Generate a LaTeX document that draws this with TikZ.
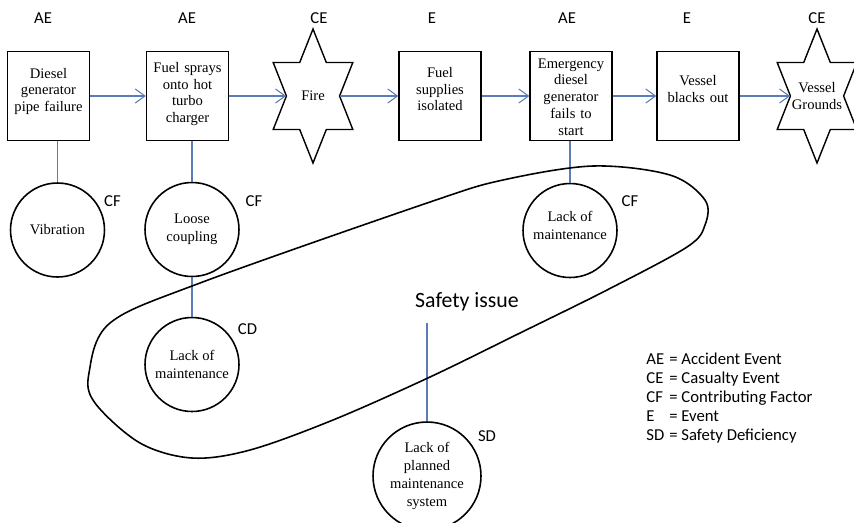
\documentclass[tikz,border=0pt]{standalone}
\usepackage{fontspec}
\setmainfont{Liberation Serif}
\newfontfamily\labfont{Carlito}
\usepackage{tikz}
\usetikzlibrary{arrows.meta}
\definecolor{linkblue}{RGB}{90,125,182}
\tikzset{
evbox/.style={draw,line width=0.8pt,minimum width=1.64cm,minimum height=1.78cm,text width=1.56cm,align=center,inner sep=0pt,text depth=#1,font=\fontsize{8.3}{9.5}\selectfont},
evbox/.default=26pt,
factor/.style={draw,circle,line width=0.9pt,minimum size=1.88cm,inner sep=0pt,align=center,font=\fontsize{8.3}{10.2}\selectfont},
starin/.style={minimum width=1.064cm,minimum height=0.6cm,inner sep=0pt,align=center,font=\fontsize{8.3}{9.5}\selectfont},
tag/.style={font=\labfont\fontsize{9.5}{10.8}\selectfont},
link/.style={linkblue,line width=0.6pt},
flow/.style={link,-{Straight Barb[length=5.5pt,width=8pt]}}
}
\newcommand{\hexstar}[1]{\draw[line width=0.8pt,shift={(#1)}] (0,-67)--(13.3,-33.5)--(39.8,-33.5)--(26.6,0)--(39.8,33.5)--(13.3,33.5)--(0,67)--(-13.3,33.5)--(-39.8,33.5)--(-26.6,0)--(-39.8,-33.5)--(-13.3,-33.5)--cycle;}

\begin{document}
\begin{tikzpicture}[x=0.02cm,y=-0.02cm]
\useasboundingbox (0,0) rectangle (854,522);
\node[evbox=26pt] (dg) at (48.5,96) {Diesel\\generator\\pipe failure};
\node[evbox=32.5pt] (fs) at (187.5,96) {Fuel sprays\\onto hot\\turbo\\charger};
\node[starin] (fire) at (313,96) {Fire};
\node[evbox=27pt] (fsi) at (440,96) {Fuel\\supplies\\isolated};
\node[evbox=37pt] (edg) at (571,96) {Emergency\\diesel\\generator\\fails to\\start};
\node[evbox=17.5pt] (vbo) at (698,96) {Vessel\\blacks out};
\node[starin] (vg) at (817,96) {Vessel\\Grounds};
\hexstar{fire}
\hexstar{vg}
\node[tag] (tdg) at (43,18.5) {AE};
\node[tag] (tfs) at (187,18.5) {AE};
\node[tag] (tfire) at (319,18.5) {CE};
\node[tag] (tfsi) at (432,18.5) {E};
\node[tag] (tedg) at (567,18.5) {AE};
\node[tag] (tvbo) at (687,18.5) {E};
\node[tag] (tvg) at (817,18.5) {CE};
\node[factor] (vib) at (57.5,230) {Vibration};
\node[factor] (lc) at (192,229.5) {Loose\\coupling};
\node[factor] (lom) at (192,364.5) {Lack of\\maintenance};
\node[factor,text depth=0.2cm] (lme) at (570,230.5) {Lack of\\maintenance};
\node[factor,minimum size=2.16cm] (lpm) at (427,476) {Lack of\\planned\\maintenance\\system};
\node[tag] (tvib) at (112.5,201) {CF};
\node[tag] (tlc) at (254,201) {CF};
\node[tag] (tlom) at (247.5,329) {CD};
\node[tag] (tlme) at (630,201) {CF};
\node[tag] (tlpm) at (487,436) {SD};
\draw[flow] (dg) -- (fs);
\draw[flow] (fs) -- (fire);
\draw[flow] (fire) -- (fsi);
\draw[flow] (fsi) -- (edg);
\draw[flow] (edg) -- (vbo);
\draw[flow] (vbo) -- (vg);
\draw[link] (dg.south -| vib.north) -- (vib.north);
\draw[link] (fs.south -| lc.north) -- (lc.north);
\draw[link] (lc) -- (lom);
\draw[link] (edg.south -| lme.north) -- (lme.north);
\node[font=\labfont\fontsize{12.4}{14}\selectfont,anchor=base] (si) at (467,307) {Safety issue};
\coordinate (sibase) at (428,323);
\draw[link] (lpm.north |- sibase) -- (lpm.north);
\draw[line width=0.9pt] plot[smooth cycle,tension=0.55] coordinates {(89,373) (110,323) (200,283) (430,202) (503,180) (593,166) (670,175) (705,200) (705,225) (687,247) (607,290) (520,333) (430,377) (333,420) (250,450) (192,458) (140,443) (95,403)};
\node[tag,anchor=north west,inner sep=0pt] (key) at (646,351) {\begin{tabular}{@{}l@{\hspace{0.3em}}l@{}}
AE&= Accident Event\\
CE&= Casualty Event\\
CF&= Contributing Factor\\
E&= Event\\
SD&= Safety Deficiency
\end{tabular}};
\end{tikzpicture}
\end{document}
